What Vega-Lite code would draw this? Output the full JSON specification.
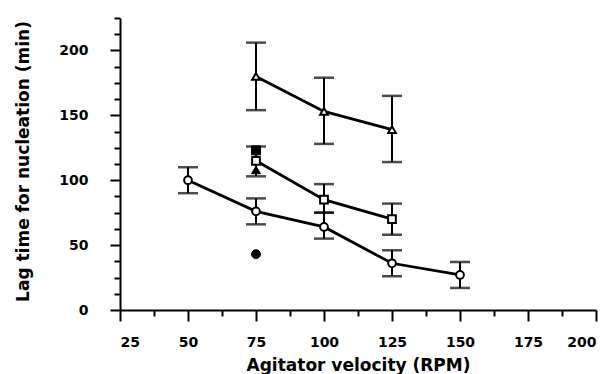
{
  "$schema": "https://vega.github.io/schema/vega-lite/v6.json",
  "width": 476,
  "height": 292,
  "autosize": {"type": "none"},
  "padding": {"left": 120, "top": 18, "right": 19, "bottom": 64},
  "background": "white",
  "config": {
    "view": {"stroke": null},
    "axis": {"labelFont": "DejaVu Sans", "labelFontWeight": "bold", "labelFontSize": 14, "labelColor": "black",
             "titleFont": "DejaVu Sans", "titleFontWeight": "bold", "titleFontSize": 17, "titleColor": "black",
             "domainColor": "black", "domainWidth": 2, "tickColor": "black", "tickWidth": 2, "grid": false}
  },
  "data": {"values": [
    {"series": "circle", "x": 50, "y": 100, "lo": 90, "hi": 110},
    {"series": "circle", "x": 75, "y": 76, "lo": 66, "hi": 86},
    {"series": "circle", "x": 100, "y": 64, "lo": 55, "hi": 75},
    {"series": "circle", "x": 125, "y": 36, "lo": 26, "hi": 46},
    {"series": "circle", "x": 150, "y": 27, "lo": 17, "hi": 37},
    {"series": "square", "x": 75, "y": 115, "lo": 103, "hi": 126},
    {"series": "square", "x": 100, "y": 85, "lo": 75, "hi": 97},
    {"series": "square", "x": 125, "y": 70, "lo": 58, "hi": 82},
    {"series": "triangle", "x": 75, "y": 180, "lo": 154, "hi": 206},
    {"series": "triangle", "x": 100, "y": 153, "lo": 128, "hi": 179},
    {"series": "triangle", "x": 125, "y": 139, "lo": 114, "hi": 165},
    {"series": "filled circle", "x": 75, "y": 43},
    {"series": "filled triangle", "x": 75, "y": 108},
    {"series": "filled square", "x": 75, "y": 123}
  ]},
  "encoding": {
    "x": {"field": "x", "type": "quantitative",
          "scale": {"domain": [25, 200], "nice": false, "zero": false},
          "axis": {"title": "Agitator velocity (RPM)",
                   "values": [25, 37.5, 50, 62.5, 75, 87.5, 100, 112.5, 125, 137.5, 150, 162.5, 175, 187.5, 200],
                   "labelExpr": "datum.value % 25 === 0 ? datum.label : ''",
                   "tickSize": {"condition": {"test": "datum.value % 25 === 0", "value": 11}, "value": 6},
                   "labelPadding": 14, "titleY": 60, "titleBaseline": "alphabetic"}},
    "y": {"field": "y", "type": "quantitative",
          "scale": {"domain": [0, 225], "nice": false},
          "axis": {"title": "Lag time for nucleation (min)",
                   "values": [0, 12.5, 25, 37.5, 50, 62.5, 75, 87.5, 100, 112.5, 125, 137.5, 150, 162.5, 175, 187.5, 200, 212.5, 225],
                   "labelExpr": "datum.value % 50 === 0 ? datum.label : ''",
                   "tickSize": {"condition": {"test": "datum.value % 50 === 0", "value": 10}, "value": 6},
                   "labelPadding": 22, "titleX": -97, "titleY": 143, "titleBaseline": "middle"}}
  },
  "layer": [
    {"transform": [{"filter": "isValid(datum.lo)"}],
     "mark": {"type": "rule", "color": "black", "strokeWidth": 2},
     "encoding": {"y": {"field": "lo", "type": "quantitative"}, "y2": {"field": "hi"}}},
    {"transform": [{"filter": "isValid(datum.lo)"}],
     "mark": {"type": "tick", "orient": "horizontal", "color": "black", "size": 20, "thickness": 2.5},
     "encoding": {"y": {"field": "lo", "type": "quantitative"}}},
    {"transform": [{"filter": "isValid(datum.hi)"}],
     "mark": {"type": "tick", "orient": "horizontal", "color": "black", "size": 20, "thickness": 2.5},
     "encoding": {"y": {"field": "hi", "type": "quantitative"}}},
    {"transform": [{"filter": "isValid(datum.lo)"}],
     "mark": {"type": "line", "color": "black", "strokeWidth": 2.8},
     "encoding": {"detail": {"field": "series"}}},
    {"transform": [{"filter": "isValid(datum.lo)"}],
     "mark": {"type": "point", "filled": true, "fill": "white", "stroke": "black", "strokeWidth": 2, "opacity": 1, "size": 60},
     "encoding": {"shape": {"field": "series", "type": "nominal", "legend": null,
                            "scale": {"domain": ["circle", "square", "triangle", "filled circle", "filled square", "filled triangle"],
                                      "range": ["circle", "square", "triangle-up", "circle", "square", "triangle-up"]}}}},
    {"transform": [{"filter": "!isValid(datum.lo)"}],
     "mark": {"type": "point", "filled": true, "fill": "black", "stroke": "black", "strokeWidth": 1, "opacity": 1, "size": 80},
     "encoding": {"shape": {"field": "series", "type": "nominal", "legend": null}}}
  ]
}
